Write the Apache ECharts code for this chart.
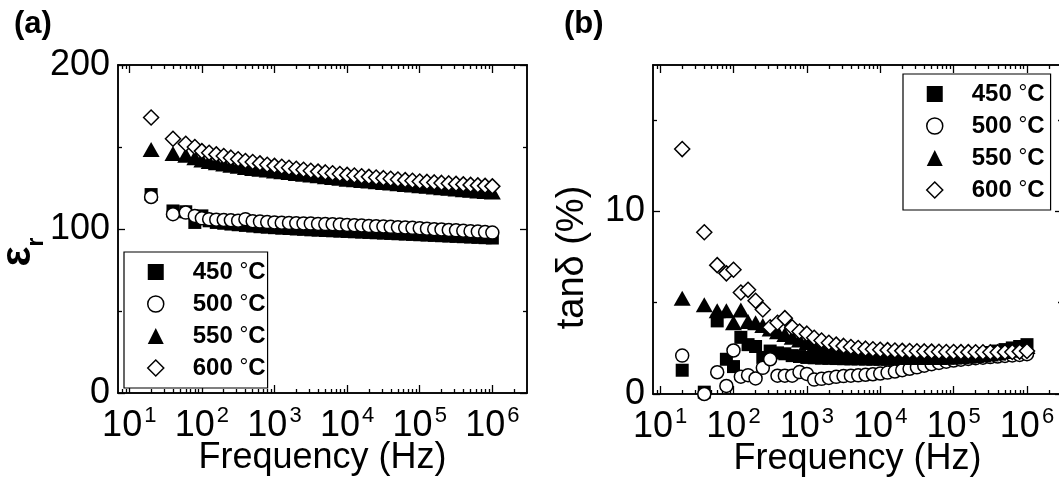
<!DOCTYPE html>
<html><head><meta charset="utf-8">
<script src="https://cdn.jsdelivr.net/npm/echarts@6/dist/echarts.min.js"></script>
<style>html,body{margin:0;padding:0;background:#fff}#c{width:1059px;height:484px}</style>
</head><body><div id="c"></div>
<script>
// ---------------- data ----------------
const freqHz = [20,40,60,80,100,126,158,200,251,316,398,501,631,794,1000,1259,1585,1995,2512,3162,3981,5012,6310,7943,10000,12589,15849,19953,25119,31623,39811,50119,63096,79433,100000,125893,158489,199526,251189,316228,398107,501187,630957,794328,1000000];
const seriesNames = ['450 °C','500 °C','550 °C','600 °C'];

// (a) relative permittivity
const epsR450 = [121,111,110.5,104,108,105,104,103.5,103,102.6,102.2,101.8,101.4,101.1,100.8,100.5,100.3,100.0,99.8,99.5,99.3,99.1,98.9,98.7,98.5,98.3,98.1,97.9,97.7,97.5,97.3,97.1,96.9,96.7,96.5,96.3,96.1,95.9,95.7,95.5,95.3,95.1,94.9,94.7,94.5];
const epsR500 = [119.5,109,110,108,106.5,106,105.7,105.5,105.3,105.1,106,104.8,104.5,104.2,104,103.8,103.7,103.5,103.4,103.3,103.1,103.0,102.9,102.7,102.5,102.3,102.1,101.9,101.7,101.5,101.3,101.1,100.9,100.7,100.5,100.2,99.9,99.7,99.4,99.2,98.9,98.7,98.4,98.1,97.8];
const epsR550 = [148.5,146,145,143.5,142,141.2,140.4,139.6,138.9,138.2,137.5,136.9,136.4,135.9,135.4,134.9,134.4,133.9,133.4,132.9,132.4,131.9,131.4,130.9,130.4,130.0,129.6,129.2,128.8,128.4,128.0,127.6,127.2,126.8,126.4,126.0,125.6,125.2,124.8,124.4,124.0,123.6,123.2,122.8,122.5];
const epsR600 = [168,155,152,150,147.5,146.5,145.5,144.5,143.5,142.5,141.5,140.8,140,139.2,138.5,137.9,137.3,136.7,136.1,135.5,135,134.5,134,133.5,133,132.6,132.2,131.8,131.4,131,130.6,130.2,129.8,129.4,129,128.7,128.4,128.1,127.8,127.5,127.2,126.9,126.6,126.3,126];

// (b) dielectric loss tan delta (%)
const tan450 = [1.3,0.1,4.0,1.9,1.5,3.1,2.7,2.6,2.0,2.35,2.25,2.2,2.1,2.05,2.0,1.98,1.96,1.95,1.94,1.93,1.92,1.92,1.91,1.9,1.9,1.9,1.9,1.9,1.9,1.91,1.92,1.93,1.95,1.97,2.0,2.05,2.1,2.15,2.2,2.27,2.35,2.43,2.52,2.6,2.7];
const tan500 = [2.1,0.0,1.19,0.44,2.38,0.95,1.03,0.85,1.43,1.9,1.0,1.0,1.0,1.2,1.1,0.79,0.83,0.88,0.94,0.98,1.0,1.02,1.05,1.08,1.12,1.17,1.23,1.3,1.38,1.46,1.55,1.63,1.7,1.77,1.83,1.88,1.92,1.96,1.99,2.02,2.05,2.08,2.11,2.14,2.18];
const tan550 = [5.24,4.88,4.55,4.55,3.9,4.6,3.97,3.9,3.75,3.55,3.4,3.25,3.1,2.95,2.8,2.65,2.52,2.42,2.33,2.26,2.2,2.15,2.11,2.08,2.05,2.03,2.02,2.01,2.0,2.0,2.0,2.0,2.0,2.01,2.02,2.04,2.07,2.1,2.14,2.19,2.25,2.32,2.4,2.5,2.6];
const tan600 = [13.4,8.85,7.05,6.6,6.8,5.55,5.7,5.1,4.62,3.65,3.9,4.15,3.65,3.42,3.3,3.08,2.93,2.8,2.7,2.63,2.57,2.52,2.48,2.45,2.42,2.4,2.38,2.36,2.35,2.34,2.33,2.32,2.31,2.3,2.3,2.29,2.29,2.28,2.28,2.28,2.28,2.29,2.3,2.32,2.35];

// tick labels
const xTickExponents = [1,2,3,4,5,6];
const yTicksA = [0,100,200];
const yMinorA = [50,150];
const yTicksB = [0,10];
const yMinorB = [5,15];

// ---------------- chart ----------------
const FONT = '"Liberation Sans", Arial, Helvetica, sans-serif';
const lg = f => Math.log10(f);
function minorTickValues(minF, maxF) {
  const out = [];
  for (let e = 0; e <= 6; e++) for (let m = 2; m <= 9; m++) {
    const f = m * Math.pow(10, e);
    if (f > minF && f < maxF) out.push(lg(f));
  }
  return out;
}
const AX = {color:'#000', width:1.5};
const TK = {color:'#000', width:1.3};

const xAxis = [], yAxis = [], grid = [], series = [], legend = [], title = [];

function panel(g, cfg) {
  grid.push({left: cfg.left, top: 65, width: 409, height: cfg.height, containLabel: false, outerBoundsMode: 'none'});
  const xBase = {type:'value', gridIndex:g, min: lg(cfg.minF), max: lg(cfg.maxF),
    splitLine:{show:false}, axisLine:{show:true, onZero:false, lineStyle:AX}};
  const xMain = xAxis.length;
  xAxis.push(Object.assign({}, xBase, {position:'bottom',
    axisTick:{show:true, inside:true, length:8, lineStyle:TK, customValues:xTickExponents},
    axisLabel:{show:true, customValues:xTickExponents, hideOverlap:false, margin:12,
      formatter: v => '10{s|' + Math.round(v) + '}', color:'#000', fontFamily:FONT, fontSize:36,
      rich:{s:{fontSize:22, fontFamily:FONT, color:'#000', padding:[0,0,20,2]}}},
    name:'Frequency (Hz)', nameLocation:'middle', nameGap:47, nameMoveOverlap:false,
    nameTextStyle:{fontFamily:FONT, fontSize:36, color:'#000'}}));
  xAxis.push(Object.assign({}, xBase, {position:'bottom',
    axisTick:{show:true, inside:true, length:4, lineStyle:TK, customValues:minorTickValues(cfg.minF, cfg.maxF)},
    axisLabel:{show:false}}));
  xAxis.push(Object.assign({}, xBase, {position:'top',
    axisTick:{show:true, inside:true, length:8, lineStyle:TK, customValues:xTickExponents},
    axisLabel:{show:false}}));
  xAxis.push(Object.assign({}, xBase, {position:'top',
    axisTick:{show:true, inside:true, length:4, lineStyle:TK, customValues:minorTickValues(cfg.minF, cfg.maxF)},
    axisLabel:{show:false}}));

  const yBase = {type:'value', gridIndex:g, min:0, max:cfg.yMax, splitLine:{show:false},
    axisLine:{show:true, onZero:false, lineStyle:AX}};
  const yMain = yAxis.length;
  yAxis.push(Object.assign({}, yBase, {position:'left',
    axisTick:{show:true, inside:true, length:7, lineStyle:TK, customValues:cfg.yTicks},
    axisLabel:{show:true, customValues:cfg.yTicks, margin:8, color:'#000', fontFamily:FONT, fontSize:36},
    name: cfg.yName, nameLocation:'middle', nameRotate:90, nameGap: cfg.yNameGap, nameMoveOverlap:false,
    nameTextStyle: cfg.yNameStyle}));
  yAxis.push(Object.assign({}, yBase, {position:'left',
    axisTick:{show:true, inside:true, length:4, lineStyle:TK, customValues:cfg.yMinor},
    axisLabel:{show:false}}));
  yAxis.push(Object.assign({}, yBase, {position:'right',
    axisTick:{show:true, inside:true, length:7, lineStyle:TK, customValues:cfg.yTicks},
    axisLabel:{show:false}}));
  yAxis.push(Object.assign({}, yBase, {position:'right',
    axisTick:{show:true, inside:true, length:4, lineStyle:TK, customValues:cfg.yMinor},
    axisLabel:{show:false}}));

  const styles = [
    {symbol:'rect', symbolSize:13, itemStyle:{color:'#000', opacity:1, borderColor:'#000', borderWidth:0}},
    {symbol:'circle', symbolSize:13, itemStyle:{color:'#fff', opacity:1, borderColor:'#000', borderWidth:1.5}},
    {symbol:'triangle', symbolSize:[17,15], itemStyle:{color:'#000', opacity:1, borderColor:'#000', borderWidth:0}},
    {symbol:'diamond', symbolSize:[15,15], itemStyle:{color:'#fff', opacity:1, borderColor:'#000', borderWidth:1.5}}
  ];
  cfg.data.forEach((arr, k) => {
    series.push(Object.assign({type:'scatter', name:seriesNames[k], xAxisIndex:xMain, yAxisIndex:yMain,
      clip:false, animation:false, symbolKeepAspect:true, emphasis:{disabled:true},
      data: freqHz.map((f, i) => [lg(f), arr[i]])}, styles[k]));
  });

  legend.push({show:true, orient:'vertical', left:cfg.legLeft, top:cfg.legTop, data:seriesNames,
    selectedMode:false, padding:[8,cfg.legPadRight,8,23], itemWidth:16, itemHeight:16, itemGap:8,
    symbolKeepAspect:true,
    borderColor:'#000', borderWidth:1.2, backgroundColor:'#fff',
    itemStyle:{borderWidth:'inherit', opacity:1},
    formatter: n => n.replace('°', '{d|°}'),
    textStyle:{fontFamily:FONT, fontSize:24, fontWeight:'bold', color:'#000', padding:[0,0,0,24],
      rich:{d:{fontFamily:FONT, fontSize:22, fontWeight:'normal', color:'#000'}}}});
  title.push({text:cfg.label, left:cfg.labelLeft, top:9, padding:0,
    textStyle:{fontFamily:FONT, fontSize:31, fontWeight:'bold', color:'#000'}});
}

panel(0, {left:118, height:328, minF:7, maxF:3e6, yMax:200, yTicks:yTicksA, yMinor:yMinorA,
  yName:'{e|ε}{r|r}', yNameGap:70,
  yNameStyle:{fontFamily:FONT, fontSize:40, color:'#000', padding:[0,46,0,0],
    rich:{e:{fontFamily:FONT, fontSize:42, fontWeight:'bold', color:'#000', verticalAlign:'bottom', padding:[0,0,9,0]},
          r:{fontFamily:FONT, fontSize:23, fontWeight:'bold', color:'#000', verticalAlign:'bottom'}}},
  data:[epsR450, epsR500, epsR550, epsR600], legLeft:124, legTop:252, legPadRight:2, label:'(a)', labelLeft:14});
panel(1, {left:653, height:329, minF:8, maxF:3e6, yMax:18, yTicks:yTicksB, yMinor:yMinorB,
  yName:'tanδ (%)', yNameGap:61,
  yNameStyle:{fontFamily:FONT, fontSize:38, color:'#000', padding:[0,56,0,0]},
  data:[tan450, tan500, tan550, tan600], legLeft:903, legTop:74, legPadRight:6, label:'(b)', labelLeft:564});

const chart = echarts.init(document.getElementById('c'), null, {renderer:'canvas'});
chart.setOption({animation:false, backgroundColor:'#fff', grid, xAxis, yAxis, series, legend, title});
</script></body></html>
